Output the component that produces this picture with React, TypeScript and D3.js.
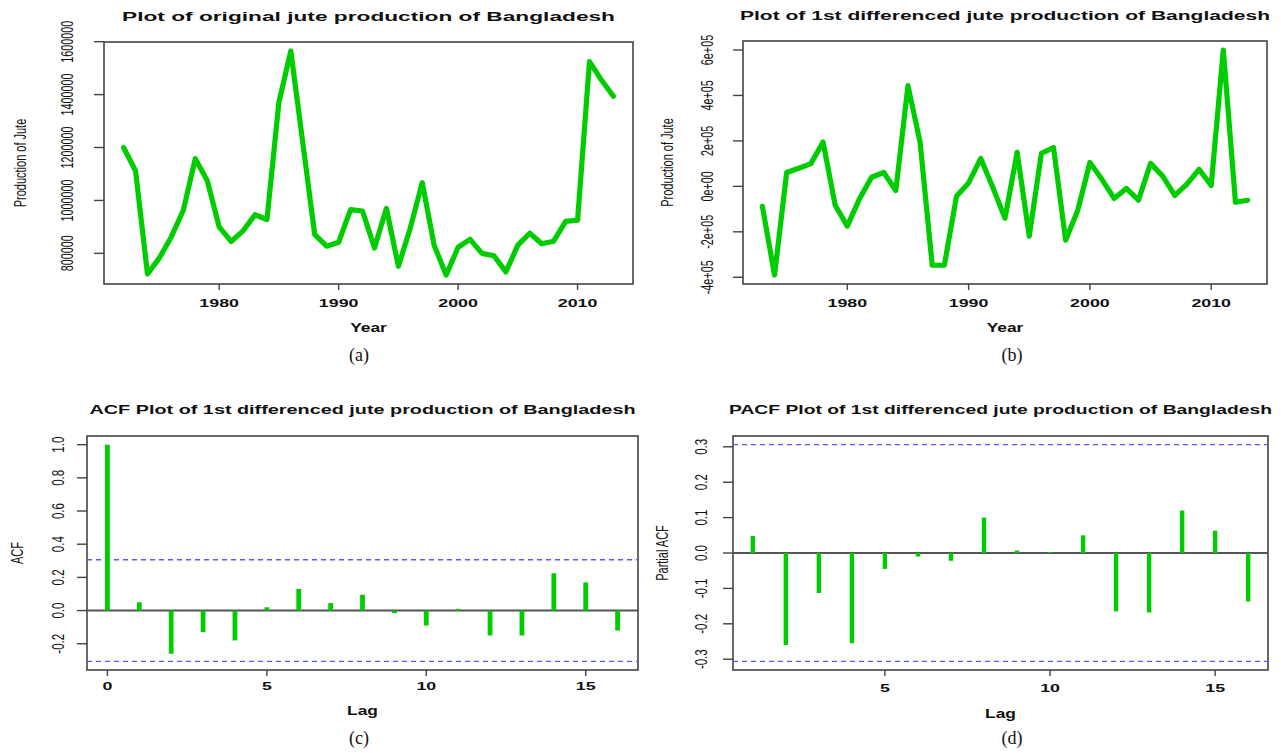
import React from 'react';
import * as d3 from 'd3';

// ---- data ----
const years = d3.range(1972, 2014);
const production = [
  1200000, 1112000, 722000, 783000, 863000, 963000, 1158000, 1075000, 900000, 845000,
  885000, 946000, 928000, 1371000, 1565000, 1218000, 871000, 827000, 842000, 965000,
  960000, 820000, 970000, 751000, 896000, 1067000, 830000, 718000, 823000, 853000,
  800000, 791000, 730000, 831000, 876000, 836000, 846000, 921000, 925000, 1525000,
  1455000, 1394000,
];

const diffYears = d3.range(1973, 2014);
const diffProduction = [
  -88000, -390000, 61000, 80000, 100000, 195000, -83000, -175000, -55000, 40000,
  61000, -18000, 443000, 194000, -347000, -347000, -44000, 15000, 123000, -5000,
  -140000, 150000, -219000, 145000, 171000, -237000, -105000, 105000, 30000, -53000,
  -9000, -61000, 101000, 45000, -40000, 10000, 75000, 4000, 600000, -70000, -61000,
];

const acfLags = d3.range(0, 17);
const acfValues = [
  1.0, 0.05, -0.26, -0.13, -0.18, 0.02, 0.13, 0.045, 0.095, -0.015, -0.09, 0.01,
  -0.15, -0.15, 0.225, 0.17, -0.12,
];

const pacfLags = d3.range(1, 17);
const pacfValues = [
  0.048, -0.26, -0.113, -0.255, -0.045, -0.01, -0.022, 0.1, 0.007, 0.003, 0.05,
  -0.165, -0.168, 0.12, 0.063, -0.137,
];

const confLimit = 0.306;

const yearTicks = [1980, 1990, 2000, 2010];
const prodTicks = [800000, 1000000, 1200000, 1400000, 1600000];
const diffTicks = [-400000, -200000, 0, 200000, 400000, 600000];
const diffTickLabels = ['-4e+05', '-2e+05', '0e+00', '2e+05', '4e+05', '6e+05'];
const acfTicks = [-0.2, 0, 0.2, 0.4, 0.6, 0.8, 1.0];
const pacfTicks = [-0.3, -0.2, -0.1, 0, 0.1, 0.2, 0.3];
const acfLagTicks = [0, 5, 10, 15];
const pacfLagTicks = [5, 10, 15];

// ---- style ----
const W = 1281;
const H = 753;
const GREEN = '#00cd00';
const SX = 1.45; // the figure is stretched horizontally
const SANS = '"Liberation Sans", Arial, Helvetica, sans-serif';

// R-like 4% padded domain
const pad = (lo: number, hi: number) => {
  const d = (hi - lo) * 0.04;
  return [lo - d, hi + d];
};

const HText = ({ x, y, text, size, bold = false, anchor = 'middle', sx = SX }: any) => (
  <text
    transform={`translate(${x},${y}) scale(${sx},1)`}
    textAnchor={anchor}
    fontFamily={SANS}
    fontSize={size}
    fontWeight={bold ? 'bold' : 'normal'}
    fill="#111"
  >
    {text}
  </text>
);

const VText = ({ x, y, text, size, bold = false }: any) => (
  <text
    transform={`translate(${x},${y}) scale(${SX},1) rotate(-90)`}
    textAnchor="middle"
    dy="0.35em"
    fontFamily={SANS}
    fontSize={size}
    fontWeight={bold ? 'bold' : 'normal'}
    fill="#111"
  >
    {text}
  </text>
);

const Title = ({ cx, y, text, width }: any) => (
  <text
    x={cx - width / 2}
    y={y}
    textLength={width}
    lengthAdjust="spacingAndGlyphs"
    fontFamily={SANS}
    fontSize={13.5}
    fontWeight="bold"
    fill="#111"
  >
    {text}
  </text>
);

const Frame = ({ box, x, y, xTicks, xLabels, yTicks, yLabels, xTitle, yTitle, title, titleWidth, titleY,
  yLabelOff, yTitleOff, yTickSize, xTickY, xTitleY }: any) => {
  const { l, r, t, b } = box;
  return (
    <g>
      <Title cx={(l + r) / 2} y={titleY} text={title} width={titleWidth} />
      <rect x={l} y={t} width={r - l} height={b - t} fill="none" stroke="#444" strokeWidth={1.6} />
      {xTicks.map((v: number, i: number) => (
        <g key={'x' + v}>
          <line x1={x(v)} x2={x(v)} y1={b} y2={b + 6} stroke="#444" strokeWidth={1.4} />
          <HText x={x(v)} y={xTickY} text={xLabels[i]} size={11.5} bold sx={1.55} />
        </g>
      ))}
      {yTicks.map((v: number, i: number) => (
        <g key={'y' + v}>
          <line x1={l - 10} x2={l} y1={y(v)} y2={y(v)} stroke="#444" strokeWidth={1.4} />
          <VText x={l - yLabelOff} y={y(v)} text={yLabels[i]} size={yTickSize} />
        </g>
      ))}
      <HText x={(l + r) / 2} y={xTitleY} text={xTitle} size={12} bold />
      <VText x={l - yTitleOff} y={(t + b) / 2} text={yTitle} size={11} />
    </g>
  );
};

const Caption = ({ x, y, text }: any) => (
  <text x={x} y={y} textAnchor="middle" fontFamily='"Liberation Serif", "Times New Roman", serif' fontSize={18} fill="#111">
    {text}
  </text>
);

export default function App() {
  // panel (a)
  const boxA = { l: 104, r: 633, t: 42, b: 284 };
  const xA = d3.scaleLinear().domain(pad(years[0], years[years.length - 1])).range([boxA.l, boxA.r]);
  const yA = d3.scaleLinear().domain(pad(d3.min(production)!, d3.max(production)!)).range([boxA.b, boxA.t]);
  const lineA = d3.line<number>().x((_, i) => xA(years[i])).y((d) => yA(d));

  // panel (b)
  const boxB = { l: 743, r: 1267, t: 41, b: 284 };
  const xB = d3.scaleLinear().domain(pad(diffYears[0], diffYears[diffYears.length - 1])).range([boxB.l, boxB.r]);
  const yB = d3.scaleLinear().domain(pad(d3.min(diffProduction)!, d3.max(diffProduction)!)).range([boxB.b, boxB.t]);
  const lineB = d3.line<number>().x((_, i) => xB(diffYears[i])).y((d) => yB(d));

  // panel (c)
  const boxC = { l: 87, r: 638, t: 436, b: 670 };
  const xC = d3.scaleLinear().domain(pad(0, 16)).range([boxC.l, boxC.r]);
  const yC = d3.scaleLinear().domain(pad(-confLimit, 1.0)).range([boxC.b, boxC.t]);

  // panel (d)
  const boxD = { l: 733, r: 1268, t: 436, b: 670 };
  const xD = d3.scaleLinear().domain(pad(1, 16)).range([boxD.l, boxD.r]);
  const yD = d3.scaleLinear().domain(pad(-confLimit, confLimit)).range([boxD.b, boxD.t]);

  const fmt1 = (v: number) => (Math.abs(v) < 1e-9 ? '0.0' : d3.format('.1f')(v).replace('−', '-'));

  return (
    <svg width={W} height={H} style={{ position: 'absolute', left: 0, top: 0, background: '#fff' }}>
      {/* (a) */}
      <Frame box={boxA} x={xA} y={yA} xTicks={yearTicks} xLabels={yearTicks.map(String)}
        yTicks={prodTicks} yLabels={prodTicks.map(String)} xTitle="Year" yTitle="Production of Jute"
        title="Plot of original jute production of Bangladesh" titleWidth={493} titleY={21}
        yLabelOff={36} yTitleOff={84} yTickSize={10.8} xTickY={307} xTitleY={332} />
      <path d={lineA(production)!} fill="none" stroke={GREEN} strokeWidth={5.2} strokeLinejoin="round" strokeLinecap="round" />
      <Caption x={359} y={361} text="(a)" />

      {/* (b) */}
      <Frame box={boxB} x={xB} y={yB} xTicks={yearTicks} xLabels={yearTicks.map(String)}
        yTicks={diffTicks} yLabels={diffTickLabels} xTitle="Year" yTitle="Production of Jute"
        title="Plot of 1st differenced jute production of Bangladesh" titleWidth={530} titleY={20}
        yLabelOff={35} yTitleOff={76} yTickSize={10.8} xTickY={307} xTitleY={332} />
      <path d={lineB(diffProduction)!} fill="none" stroke={GREEN} strokeWidth={5.2} strokeLinejoin="round" strokeLinecap="round" />
      <Caption x={1012} y={361} text="(b)" />

      {/* (c) */}
      <Frame box={boxC} x={xC} y={yC} xTicks={acfLagTicks} xLabels={acfLagTicks.map(String)}
        yTicks={acfTicks} yLabels={acfTicks.map(fmt1)} xTitle="Lag" yTitle="ACF"
        title="ACF Plot of 1st differenced jute production of Bangladesh" titleWidth={546} titleY={414}
        yLabelOff={29} yTitleOff={70} yTickSize={11.5} xTickY={690} xTitleY={715} />
      <line x1={boxC.l} x2={boxC.r} y1={yC(0)} y2={yC(0)} stroke="#555" strokeWidth={2} />
      {[confLimit, -confLimit].map((c) => (
        <line key={c} x1={boxC.l} x2={boxC.r} y1={yC(c)} y2={yC(c)} stroke="#5a5aff" strokeWidth={1.4} strokeDasharray="5,4" />
      ))}
      {acfValues.map((v, i) => (
        <line key={i} x1={xC(acfLags[i])} x2={xC(acfLags[i])} y1={yC(0)} y2={yC(v)} stroke={GREEN} strokeWidth={4.8} />
      ))}
      <Caption x={359} y={744} text="(c)" />

      {/* (d) */}
      <Frame box={boxD} x={xD} y={yD} xTicks={pacfLagTicks} xLabels={pacfLagTicks.map(String)}
        yTicks={pacfTicks} yLabels={pacfTicks.map(fmt1)} xTitle="Lag" yTitle="Partial ACF"
        title="PACF Plot of 1st differenced jute production of Bangladesh" titleWidth={543} titleY={414}
        yLabelOff={32} yTitleOff={71} yTickSize={11.5} xTickY={692} xTitleY={718} />
      <line x1={boxD.l} x2={boxD.r} y1={yD(0)} y2={yD(0)} stroke="#555" strokeWidth={2} />
      {[confLimit, -confLimit].map((c) => (
        <line key={c} x1={boxD.l} x2={boxD.r} y1={yD(c)} y2={yD(c)} stroke="#5a5aff" strokeWidth={1.4} strokeDasharray="5,4" />
      ))}
      {pacfValues.map((v, i) => (
        <line key={i} x1={xD(pacfLags[i])} x2={xD(pacfLags[i])} y1={yD(0)} y2={yD(v)} stroke={GREEN} strokeWidth={4.4} />
      ))}
      <Caption x={1012} y={744} text="(d)" />
    </svg>
  );
}
